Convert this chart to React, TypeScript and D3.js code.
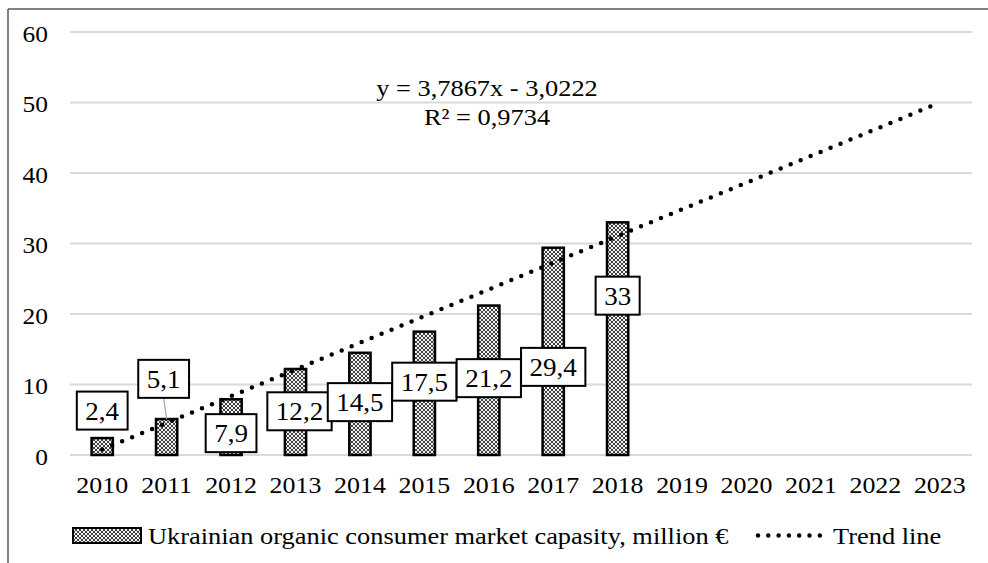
import React from "react";
import * as d3 from "d3";

const years = ["2010","2011","2012","2013","2014","2015","2016","2017","2018","2019","2020","2021","2022","2023"];
const marketValues = [2.4, 5.1, 7.9, 12.2, 14.5, 17.5, 21.2, 29.4, 33];
const valueLabels = ["2,4","5,1","7,9","12,2","14,5","17,5","21,2","29,4","33"];
const labelCenterValue = [6.3, 10.8, 3.1, 6.2, 7.5, 10.4, 10.9, 12.5, 22.6];
const labelDx = [0, -3, 0, 4, 0, 0, 0, 0, 0];
const yTicks = [0, 10, 20, 30, 40, 50, 60];
const trendSlope = 3.7867;
const trendIntercept = -3.0222;
const equationText = "y = 3,7867x - 3,0222";
const r2Text = "R² = 0,9734";
const seriesName = "Ukrainian organic consumer market capasity, million €";
const trendName = "Trend line";

const W = 988, H = 563;
const FONT = "'Liberation Serif', 'Times New Roman', serif";

function Txt({ x, y, size, sx = 1.12, anchor = "start", children }: any) {
  return (
    <text
      transform={`translate(${x},${y}) scale(${sx},1)`}
      textAnchor={anchor}
      fontFamily={FONT}
      fontSize={size}
      fill="#000"
    >
      {children}
    </text>
  );
}

function textWidth(s: string, em: number) {
  let w = 0;
  for (const c of s) w += c === "," ? 0.25 : 0.5;
  return w * em;
}

export default function App() {
  const x = d3.scaleBand<string>().domain(years).range([70, 972]).paddingInner(0.67).paddingOuter(0.335);
  const y = d3.scaleLinear().domain([0, 60]).range([455, 32]);
  const cx = (i: number) => (x(years[i]) as number) + x.bandwidth() / 2;

  const trendPts: [number, number][] = [0, years.length - 1].map((i) => [
    cx(i),
    y(trendSlope * (i + 1) + trendIntercept),
  ]);
  const line = d3.line();

  const labelSize = 26;
  const labelSx = 1.04;
  const boxH = 38;

  return (
    <div style={{ position: "absolute", left: 0, top: 0 }}>
      <svg width={W} height={H} style={{ display: "block", background: "#fff" }}>
        <defs>
          <pattern id="hatch" width="4" height="4" patternUnits="userSpaceOnUse">
            <rect width="4" height="4" fill="#f4f4f4" />
            <path d="M2 0 L4 2 L2 4 L0 2 Z" fill="none" stroke="#2a2a2a" strokeWidth="0.9" />
          </pattern>
        </defs>

        {/* outer border (cropped chart area) */}
        <line x1={8} y1={9} x2={W} y2={9} stroke="#595959" strokeWidth={1.5} />
        <line x1={8} y1={9} x2={8} y2={H} stroke="#595959" strokeWidth={1.5} />

        {/* gridlines */}
        {yTicks.map((t) => (
          <line key={t} x1={70} x2={972} y1={y(t)} y2={y(t)} stroke="#d9d9d9" strokeWidth={2} />
        ))}

        {/* y tick labels */}
        {yTicks.map((t) => (
          <Txt key={t} x={48} y={y(t) + 9.5} size={24} sx={1.06} anchor="end">{String(t)}</Txt>
        ))}

        {/* category labels */}
        {years.map((yr, i) => (
          <Txt key={yr} x={cx(i)} y={493} size={24} sx={1.08} anchor="middle">{yr}</Txt>
        ))}

        {/* bars */}
        {marketValues.map((v, i) => (
          <rect
            key={i}
            x={x(years[i])}
            y={y(v)}
            width={x.bandwidth()}
            height={y(0) - y(v)}
            fill="url(#hatch)"
            stroke="#000"
            strokeWidth={2.5}
          />
        ))}

        {/* trend line */}
        <path
          d={line(trendPts) as string}
          fill="none"
          stroke="#000"
          strokeWidth={4.5}
          strokeLinecap="round"
          strokeDasharray="0 10.8"
        />

        {/* leader line for 2011 label */}
        <line
          x1={cx(1) + labelDx[1]}
          y1={y(labelCenterValue[1]) + boxH / 2}
          x2={cx(1)}
          y2={y(marketValues[1])}
          stroke="#a6a6a6"
          strokeWidth={1.2}
        />

        {/* data labels */}
        {valueLabels.map((lab, i) => {
          const w = textWidth(lab, labelSize * labelSx) + 17;
          const lx = cx(i) + labelDx[i];
          const ly = y(labelCenterValue[i]);
          return (
            <g key={i}>
              <rect x={lx - w / 2} y={ly - boxH / 2} width={w} height={boxH} fill="#fff" stroke="#000" strokeWidth={2} />
              <Txt x={lx} y={ly + 9} size={labelSize} sx={labelSx} anchor="middle">{lab}</Txt>
            </g>
          );
        })}

        {/* equation */}
        <Txt x={487} y={96} size={24} sx={1.1} anchor="middle">{equationText}</Txt>
        <Txt x={487} y={125} size={24} sx={1.1} anchor="middle">{r2Text}</Txt>

        {/* legend */}
        <rect x={73} y={528} width={68} height={15} fill="url(#hatch)" stroke="#000" strokeWidth={2} />
        <Txt x={148} y={544} size={24} sx={1.1}>{seriesName}</Txt>
        <line x1={758} x2={820} y1={535.5} y2={535.5} stroke="#000" strokeWidth={4.5} strokeLinecap="round" strokeDasharray="0 10.3" />
        <Txt x={833} y={544} size={24} sx={1.1}>{trendName}</Txt>
      </svg>
    </div>
  );
}
